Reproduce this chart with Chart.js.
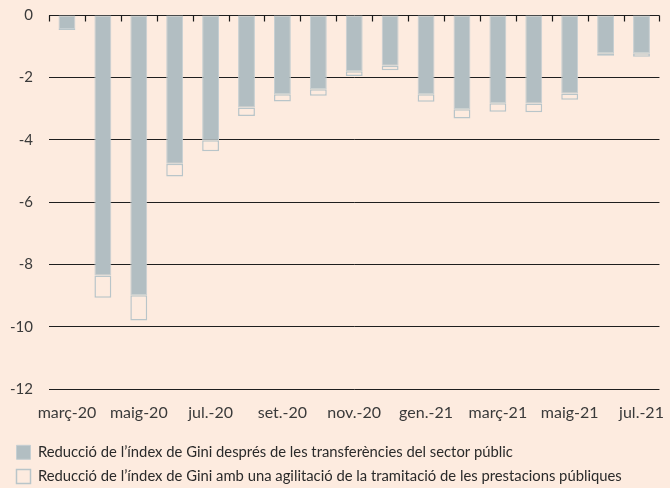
<!DOCTYPE html>
<html>
<head>
<meta charset="utf-8">
<script src="https://cdn.jsdelivr.net/npm/chart.js@4"></script>
<style>
  html, body { margin: 0; padding: 0; background: #fdebdf; }
  #wrap { width: 670px; height: 488px; position: relative; }
</style>
</head>
<body>
<div id="wrap"><canvas id="c" width="670" height="488"></canvas></div>
<script>
const months = ['març-20','abr.-20','maig-20','juny-20','jul.-20','ag.-20','set.-20','oct.-20','nov.-20','des.-20','gen.-21','febr.-21','març-21','abr.-21','maig-21','juny-21','jul.-21'];
const afterTransfers = [-0.45,-8.35,-8.99,-4.77,-4.02,-2.97,-2.54,-2.38,-1.80,-1.63,-2.54,-3.02,-2.83,-2.84,-2.52,-1.23,-1.23];
const extraAgility = [-0.03,-0.72,-0.81,-0.41,-0.35,-0.27,-0.23,-0.21,-0.16,-0.14,-0.24,-0.30,-0.27,-0.28,-0.20,-0.08,-0.11];
const seriesNames = [
  'Reducció de l’índex de Gini després de les transferències del sector públic',
  'Reducció de l’índex de Gini amb una agilitació de la tramitació de les prestacions públiques'
];
const yTicks = [0,-2,-4,-6,-8,-10,-12];

const BG = '#fdebdf';
const GRAY = '#b2bec2';

const zeroTicks = {
  id: 'zeroTicks',
  afterDatasetsDraw(chart) {
    const x = chart.scales.x, y = chart.scales.y;
    const ctx = chart.ctx;
    const y0 = Math.round(y.getPixelForValue(0)) + 0.5;
    const n = months.length;
    const w = (x.right - x.left) / n;
    ctx.save();
    ctx.strokeStyle = '#1a1a1a';
    ctx.lineWidth = 1.2;
    ctx.beginPath();
    for (let i = 0; i <= n; i++) {
      const px = Math.round(x.left + i * w) + 0.5;
      ctx.moveTo(px, y0);
      ctx.lineTo(px, y0 + 6);
    }
    ctx.stroke();
    ctx.restore();
  }
};

new Chart(document.getElementById('c'), {
  type: 'bar',
  data: {
    labels: months,
    datasets: [
      {
        label: seriesNames[0],
        data: afterTransfers,
        backgroundColor: GRAY,
        borderColor: '#c6cfd2',
        borderWidth: 1,
        borderSkipped: false,
        barPercentage: 0.47,
        categoryPercentage: 1.0
      },
      {
        label: seriesNames[1],
        data: extraAgility,
        backgroundColor: BG,
        borderColor: '#b9c5c9',
        borderWidth: 1.5,
        borderSkipped: false,
        barPercentage: 0.47,
        categoryPercentage: 1.0
      }
    ]
  },
  options: {
    responsive: false,
    animation: false,
    layout: { padding: { top: 15, right: 3, left: 7, bottom: -6 } },
    scales: {
      x: {
        stacked: true,
        grid: { display: false },
        border: { display: false },
        afterFit: (s) => { s.height += 7; },
        ticks: {
          autoSkip: false,
          maxRotation: 0,
          color: '#3a3a3a',
          font: { family: 'Lato', size: 16 },
          padding: 6,
          callback: (v, i) => (i % 2 === 0 ? months[i] : '')
        }
      },
      y: {
        stacked: true,
        min: -12,
        max: 0,
        afterBuildTicks: (s) => { s.ticks = yTicks.map(v => ({ value: v })); },
        afterFit: (s) => { s.width = 42; s.paddingTop = 0; s.paddingBottom = 0; },
        grid: { color: '#1e1e1e', lineWidth: 1, drawTicks: false },
        border: { display: false },
        ticks: {
          color: '#3a3a3a',
          font: { family: 'Lato', size: 15 },
          padding: 16
        }
      }
    },
    plugins: {
      legend: {
        position: 'bottom',
        align: 'start',
        labels: {
          boxWidth: 14,
          boxHeight: 14,
          color: '#2a2a2a',
          font: { family: 'Lato', size: 14.8 },
          padding: 9.5
        }
      },
      tooltip: { enabled: false }
    }
  },
  plugins: [zeroTicks]
});
</script>
</body>
</html>
